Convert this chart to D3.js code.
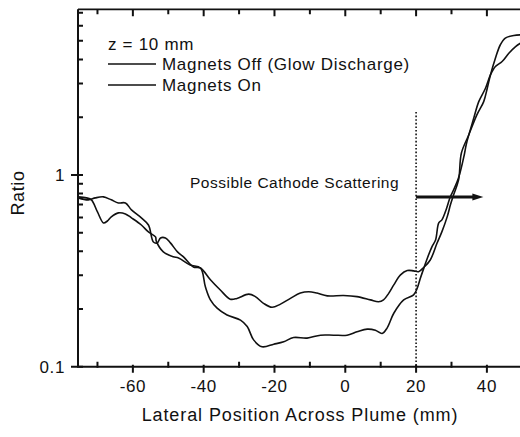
<!DOCTYPE html>
<html>
<head>
<meta charset="utf-8">
<script src="https://cdn.jsdelivr.net/npm/d3@7"></script>
<style>
  html, body { margin: 0; padding: 0; background: #fff; }
  svg { display: block; }
  text { font-family: "Liberation Sans", Arial, Helvetica, sans-serif; fill: #111; }
</style>
</head>
<body>
<svg id="chart" width="520" height="437"></svg>
<script>
// ---- data ----
const xOff = [-75.4,-72.6,-70.6,-68.3,-66.1,-64.1,-62.1,-60.4,-57.6,-55.6,-54.2,-53.1,-52.2,-50.8,-49.4,-47.4,-45.7,-42.9,-40.9,-38.1,-35.3,-32.5,-30.6,-27.3,-25.4,-23.1,-20.7,-18.3,-15.5,-12.7,-10.3,-8.0,-5.1,-0.5,3.3,7.1,9.4,10.8,12.3,13.7,15.6,17.5,19.3,20.7,22.3,24.0,25.9,27.3,28.8,29.7,30.6,32.0,32.8,34.9,37.2,39.1,40.1,41.0,42.4,43.8,45.2,47.6,49.5];
const yOff = [0.759,0.741,0.759,0.768,0.741,0.714,0.714,0.657,0.597,0.548,0.447,0.442,0.469,0.469,0.442,0.397,0.374,0.331,0.327,0.284,0.251,0.225,0.227,0.239,0.232,0.214,0.204,0.212,0.227,0.242,0.246,0.242,0.234,0.235,0.232,0.223,0.218,0.223,0.242,0.267,0.301,0.317,0.316,0.313,0.331,0.360,0.440,0.506,0.606,0.698,0.787,0.942,1.30,1.62,2.06,2.41,2.83,3.32,4.06,4.77,5.17,5.33,5.37];
const xOn = [-75.4,-73.1,-71.7,-70.0,-68.3,-67.2,-66.1,-64.1,-62.1,-60.4,-57.6,-55.6,-53.6,-53.4,-51.4,-48.6,-47.1,-43.8,-40.9,-39.5,-38.1,-36.2,-33.4,-29.6,-27.7,-25.9,-23.5,-20.2,-17.4,-14.6,-10.8,-7.0,-3.3,0.5,3.3,6.2,8.5,10.4,11.8,13.7,16.5,19.3,20.3,21.2,22.3,23.2,24.5,25.5,26.4,27.3,28.3,29.7,30.6,32.0,33.6,34.2,36.3,37.7,39.6,41.0,42.4,44.3,46.2,48.1,49.5];
const yOn = [0.768,0.759,0.741,0.641,0.562,0.575,0.604,0.634,0.626,0.597,0.548,0.504,0.475,0.453,0.397,0.374,0.369,0.339,0.327,0.260,0.223,0.202,0.186,0.175,0.162,0.138,0.127,0.131,0.135,0.142,0.141,0.146,0.146,0.146,0.152,0.157,0.155,0.149,0.159,0.190,0.223,0.237,0.256,0.289,0.331,0.369,0.423,0.458,0.562,0.583,0.644,0.771,0.835,0.965,1.27,1.45,1.98,2.41,2.83,3.32,3.67,3.90,4.31,4.67,4.86];
const xMajorTicks = [-60,-40,-20,0,20,40];
const xMinorTicks = [-70,-50,-30,-10,10,30,50];
const yMajorTicks = [0.1, 1];
const yMinorTicks = [0.2,0.3,0.4,0.5,0.6,0.7,0.8,0.9,2,3,4,5,6,7];
const seriesNames = ["Magnets Off (Glow Discharge)", "Magnets On"];
const legendTitle = "z = 10 mm";
const annotation = "Possible Cathode Scattering";
const markerX = 20;
const arrowX = [20, 39];
const arrowY = 0.767;
const xTitle = "Lateral Position Across Plume (mm)";
const yTitle = "Ratio";

// ---- layout ----
const svg = d3.select("#chart");
const L = 78, R = 522.3, T = 9.3, B = 366.7;
const x = d3.scaleLinear().domain([-75.5, 50]).range([L, R]);
const y = d3.scaleLog().domain([0.1, 7.3]).range([B, T]);
const ink = "#111";

svg.append("defs").append("clipPath").attr("id","clip")
  .append("rect").attr("x", L).attr("y", T).attr("width", R - L).attr("height", B - T);

// frame lines
svg.append("path").attr("d", `M${L},${T}H${R}`).attr("stroke", ink).attr("stroke-width", 1.7).attr("fill", "none");
svg.append("path").attr("d", `M${L},${T}V${B}H${R}`).attr("stroke", ink).attr("stroke-width", 2).attr("fill", "none");

// tick marks as one path per side, positions from scales
const tickPath = (vals, f) => vals.map(f).join("");
svg.append("path").attr("fill", "none").attr("stroke", ink).attr("stroke-width", 2)
  .attr("d",
    tickPath(xMajorTicks, d => `M${x(d)},${B - 2}V${B + 6}M${x(d)},${T}V${T + 7}`) +
    tickPath(xMinorTicks.filter(d => x(d) < 520), d => `M${x(d)},${B + 1}V${B - 5}M${x(d)},${T}V${T + 5}`) +
    tickPath(yMajorTicks, d => `M${L - 7},${y(d)}H${L + 5}`) +
    tickPath(yMinorTicks, d => `M${L - 1},${y(d)}H${L + 5}`));

// tick labels
svg.selectAll(".xl").data(xMajorTicks).join("text")
  .attr("x", d => x(d)).attr("y", B + 25).attr("text-anchor", "middle")
  .style("font-size", "17px").style("letter-spacing", "0.6px").text(d => String(d));
svg.selectAll(".yl").data(yMajorTicks).join("text")
  .attr("x", L - 13).attr("y", d => y(d) + 6).attr("text-anchor", "end")
  .style("font-size", "17px").style("letter-spacing", "0.6px").text(d => d === 1 ? "1" : "0.1");

// titles
svg.append("text").attr("x", 300).attr("y", 421).attr("text-anchor", "middle")
  .style("font-size", "18px").style("letter-spacing", "0.9px").text(xTitle);
svg.append("text").attr("transform", "translate(24,193) rotate(-90)").attr("text-anchor", "middle")
  .style("font-size", "18px").style("letter-spacing", "0.6px").text(yTitle);

// dotted marker line
svg.append("line").attr("x1", x(markerX)).attr("x2", x(markerX)).attr("y1", 112).attr("y2", B)
  .attr("stroke", ink).attr("stroke-width", 1.6).attr("stroke-dasharray", "1.6,2");

// curves
const line = d3.line().x(d => x(d[0])).y(d => y(d[1])).curve(d3.curveCatmullRom.alpha(0.5));
const plot = svg.append("g").attr("clip-path", "url(#clip)");
[[xOff, yOff], [xOn, yOn]].forEach(([xs, ys]) => {
  plot.append("path").datum(xs.map((v, i) => [v, ys[i]]))
    .attr("d", line).attr("fill", "none").attr("stroke", ink).attr("stroke-width", 1.6)
    .attr("stroke-linejoin", "round");
});

// arrow
const ay = y(arrowY);
svg.append("line").attr("x1", x(arrowX[0])).attr("x2", x(arrowX[1]) - 8).attr("y1", ay).attr("y2", ay)
  .attr("stroke", ink).attr("stroke-width", 3);
svg.append("path")
  .attr("d", `M${x(arrowX[1])},${ay}L${x(arrowX[1]) - 11},${ay - 3.5}L${x(arrowX[1]) - 11},${ay + 3.5}Z`)
  .attr("fill", ink);

// annotation
svg.append("text").attr("x", 190).attr("y", 188).style("font-size", "15.5px").style("letter-spacing", "0.5px")
  .text(annotation);

// legend
svg.append("text").attr("x", 108).attr("y", 50).style("font-size", "17px").style("letter-spacing", "0.7px").text(legendTitle);
seriesNames.forEach((name, i) => {
  const ly = 64 + i * 21;
  svg.append("line").attr("x1", 108).attr("x2", 156).attr("y1", ly).attr("y2", ly)
    .attr("stroke", ink).attr("stroke-width", 1.5);
  svg.append("text").attr("x", 162).attr("y", ly + 6).style("font-size", "17px").style("letter-spacing", "0.7px").text(name);
});
</script>
</body>
</html>
